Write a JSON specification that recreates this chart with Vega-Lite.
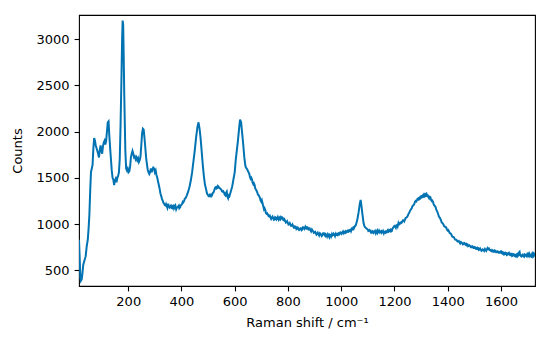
{
  "$schema": "https://vega.github.io/schema/vega-lite/v6.json",
  "autosize": "none",
  "width": 456,
  "height": 271,
  "padding": {"left": 79, "top": 15, "right": 15, "bottom": 64},
  "background": "white",
  "config": {
    "view": {"stroke": "black", "strokeWidth": 1.1},
    "axis": {
      "grid": false,
      "domain": false,
      "tickColor": "black",
      "tickSize": 4.9,
      "tickWidth": 1.1,
      "labelColor": "black",
      "labelFont": "DejaVu Sans",
      "labelFontSize": 13,
      "labelPadding": 5,
      "titleColor": "black",
      "titleFont": "DejaVu Sans",
      "titleFontSize": 13,
      "titleFontWeight": "normal"
    }
  },
  "data": {
    "values": [
      {"shift":15,"counts":830},{"shift":18,"counts":600},{"shift":20,"counts":420},{"shift":22,"counts":385},{"shift":25,"counts":400},{"shift":28,"counts":470},{"shift":31,"counts":560},{"shift":35,"counts":600},{"shift":40,"counts":650},{"shift":44,"counts":760},{"shift":48,"counts":830},{"shift":51,"counts":950},{"shift":54,"counts":1100},{"shift":57,"counts":1350},{"shift":60,"counts":1560},{"shift":63,"counts":1600},{"shift":66,"counts":1640},{"shift":69,"counts":1820},{"shift":72,"counts":1930},{"shift":75,"counts":1900},{"shift":78,"counts":1850},{"shift":81,"counts":1820},{"shift":84,"counts":1790},{"shift":87,"counts":1760},{"shift":90,"counts":1720},{"shift":93,"counts":1800},{"shift":96,"counts":1850},{"shift":99,"counts":1790},{"shift":102,"counts":1760},{"shift":105,"counts":1840},{"shift":108,"counts":1880},{"shift":111,"counts":1900},{"shift":114,"counts":1860},{"shift":117,"counts":1900},{"shift":120,"counts":2000},{"shift":123,"counts":2100},{"shift":126,"counts":2110},{"shift":129,"counts":1950},{"shift":132,"counts":1820},{"shift":135,"counts":1700},{"shift":138,"counts":1580},{"shift":141,"counts":1500},{"shift":144,"counts":1480},{"shift":147,"counts":1420},{"shift":150,"counts":1470},{"shift":153,"counts":1490},{"shift":156,"counts":1450},{"shift":159,"counts":1500},{"shift":162,"counts":1520},{"shift":165,"counts":1560},{"shift":168,"counts":1700},{"shift":171,"counts":2050},{"shift":174,"counts":2500},{"shift":177,"counts":3000},{"shift":179,"counts":3200},{"shift":181,"counts":3150},{"shift":183,"counts":2800},{"shift":185,"counts":2400},{"shift":187,"counts":2100},{"shift":189,"counts":1800},{"shift":192,"counts":1600},{"shift":195,"counts":1580},{"shift":198,"counts":1600},{"shift":201,"counts":1560},{"shift":204,"counts":1570},{"shift":207,"counts":1620},{"shift":210,"counts":1720},{"shift":213,"counts":1760},{"shift":216,"counts":1790},{"shift":219,"counts":1760},{"shift":222,"counts":1720},{"shift":225,"counts":1730},{"shift":228,"counts":1700},{"shift":231,"counts":1720},{"shift":234,"counts":1690},{"shift":237,"counts":1710},{"shift":240,"counts":1670},{"shift":243,"counts":1690},{"shift":246,"counts":1730},{"shift":249,"counts":1850},{"shift":252,"counts":1980},{"shift":255,"counts":2030},{"shift":258,"counts":2020},{"shift":261,"counts":1930},{"shift":264,"counts":1830},{"shift":267,"counts":1720},{"shift":270,"counts":1650},{"shift":273,"counts":1590},{"shift":276,"counts":1560},{"shift":279,"counts":1540},{"shift":282,"counts":1560},{"shift":285,"counts":1600},{"shift":288,"counts":1560},{"shift":291,"counts":1590},{"shift":294,"counts":1610},{"shift":297,"counts":1600},{"shift":300,"counts":1560},{"shift":303,"counts":1580},{"shift":306,"counts":1530},{"shift":309,"counts":1500},{"shift":312,"counts":1460},{"shift":315,"counts":1420},{"shift":318,"counts":1380},{"shift":321,"counts":1330},{"shift":324,"counts":1300},{"shift":327,"counts":1270},{"shift":330,"counts":1250},{"shift":335,"counts":1220},{"shift":340,"counts":1200},{"shift":345,"counts":1190},{"shift":350,"counts":1220},{"shift":355,"counts":1180},{"shift":360,"counts":1200},{"shift":365,"counts":1170},{"shift":370,"counts":1200},{"shift":375,"counts":1190},{"shift":380,"counts":1160},{"shift":385,"counts":1180},{"shift":390,"counts":1200},{"shift":395,"counts":1180},{"shift":400,"counts":1210},{"shift":405,"counts":1240},{"shift":410,"counts":1250},{"shift":415,"counts":1280},{"shift":420,"counts":1310},{"shift":425,"counts":1350},{"shift":430,"counts":1400},{"shift":435,"counts":1470},{"shift":440,"counts":1560},{"shift":445,"counts":1680},{"shift":450,"counts":1800},{"shift":455,"counts":1940},{"shift":460,"counts":2050},{"shift":464,"counts":2100},{"shift":468,"counts":2030},{"shift":472,"counts":1920},{"shift":476,"counts":1780},{"shift":480,"counts":1640},{"shift":484,"counts":1520},{"shift":488,"counts":1430},{"shift":492,"counts":1380},{"shift":496,"counts":1330},{"shift":500,"counts":1310},{"shift":505,"counts":1300},{"shift":510,"counts":1320},{"shift":515,"counts":1310},{"shift":520,"counts":1340},{"shift":525,"counts":1380},{"shift":530,"counts":1400},{"shift":535,"counts":1390},{"shift":540,"counts":1400},{"shift":545,"counts":1385},{"shift":550,"counts":1370},{"shift":555,"counts":1350},{"shift":560,"counts":1340},{"shift":565,"counts":1310},{"shift":570,"counts":1350},{"shift":575,"counts":1280},{"shift":580,"counts":1300},{"shift":585,"counts":1350},{"shift":590,"counts":1400},{"shift":595,"counts":1480},{"shift":600,"counts":1560},{"shift":604,"counts":1700},{"shift":608,"counts":1800},{"shift":612,"counts":1900},{"shift":616,"counts":2020},{"shift":620,"counts":2130},{"shift":624,"counts":2100},{"shift":628,"counts":1980},{"shift":632,"counts":1860},{"shift":636,"counts":1720},{"shift":640,"counts":1630},{"shift":645,"counts":1600},{"shift":650,"counts":1570},{"shift":655,"counts":1540},{"shift":660,"counts":1490},{"shift":665,"counts":1480},{"shift":670,"counts":1430},{"shift":675,"counts":1420},{"shift":680,"counts":1370},{"shift":685,"counts":1340},{"shift":690,"counts":1310},{"shift":695,"counts":1280},{"shift":700,"counts":1240},{"shift":705,"counts":1220},{"shift":710,"counts":1160},{"shift":715,"counts":1150},{"shift":720,"counts":1110},{"shift":725,"counts":1100},{"shift":730,"counts":1080},{"shift":735,"counts":1070},{"shift":740,"counts":1070},{"shift":745,"counts":1060},{"shift":750,"counts":1050},{"shift":755,"counts":1070},{"shift":760,"counts":1060},{"shift":765,"counts":1050},{"shift":770,"counts":1075},{"shift":775,"counts":1060},{"shift":780,"counts":1070},{"shift":785,"counts":1040},{"shift":790,"counts":1030},{"shift":795,"counts":1020},{"shift":800,"counts":1010},{"shift":805,"counts":1000},{"shift":810,"counts":990},{"shift":815,"counts":985},{"shift":820,"counts":975},{"shift":825,"counts":960},{"shift":830,"counts":970},{"shift":835,"counts":950},{"shift":840,"counts":945},{"shift":845,"counts":940},{"shift":850,"counts":955},{"shift":855,"counts":945},{"shift":860,"counts":960},{"shift":865,"counts":970},{"shift":870,"counts":950},{"shift":875,"counts":960},{"shift":880,"counts":940},{"shift":885,"counts":930},{"shift":890,"counts":940},{"shift":895,"counts":920},{"shift":900,"counts":910},{"shift":905,"counts":900},{"shift":910,"counts":895},{"shift":915,"counts":885},{"shift":920,"counts":900},{"shift":925,"counts":880},{"shift":930,"counts":885},{"shift":935,"counts":900},{"shift":940,"counts":870},{"shift":945,"counts":880},{"shift":950,"counts":890},{"shift":955,"counts":860},{"shift":960,"counts":880},{"shift":965,"counts":890},{"shift":970,"counts":880},{"shift":975,"counts":885},{"shift":980,"counts":895},{"shift":985,"counts":880},{"shift":990,"counts":900},{"shift":995,"counts":895},{"shift":1000,"counts":905},{"shift":1005,"counts":910},{"shift":1010,"counts":900},{"shift":1015,"counts":920},{"shift":1020,"counts":910},{"shift":1025,"counts":930},{"shift":1030,"counts":920},{"shift":1035,"counts":940},{"shift":1040,"counts":950},{"shift":1045,"counts":960},{"shift":1050,"counts":970},{"shift":1055,"counts":990},{"shift":1060,"counts":1040},{"shift":1065,"counts":1120},{"shift":1070,"counts":1220},{"shift":1073,"counts":1260},{"shift":1076,"counts":1200},{"shift":1080,"counts":1100},{"shift":1084,"counts":1010},{"shift":1088,"counts":970},{"shift":1092,"counts":960},{"shift":1096,"counts":950},{"shift":1100,"counts":940},{"shift":1105,"counts":930},{"shift":1110,"counts":920},{"shift":1115,"counts":905},{"shift":1120,"counts":920},{"shift":1125,"counts":915},{"shift":1130,"counts":900},{"shift":1135,"counts":930},{"shift":1140,"counts":920},{"shift":1145,"counts":910},{"shift":1150,"counts":925},{"shift":1155,"counts":915},{"shift":1160,"counts":900},{"shift":1165,"counts":920},{"shift":1170,"counts":910},{"shift":1175,"counts":935},{"shift":1180,"counts":920},{"shift":1185,"counts":940},{"shift":1190,"counts":925},{"shift":1195,"counts":960},{"shift":1200,"counts":980},{"shift":1205,"counts":960},{"shift":1210,"counts":990},{"shift":1215,"counts":1010},{"shift":1220,"counts":1000},{"shift":1225,"counts":1020},{"shift":1230,"counts":1030},{"shift":1235,"counts":1040},{"shift":1240,"counts":1050},{"shift":1245,"counts":1070},{"shift":1250,"counts":1090},{"shift":1255,"counts":1120},{"shift":1260,"counts":1150},{"shift":1265,"counts":1170},{"shift":1270,"counts":1200},{"shift":1275,"counts":1220},{"shift":1280,"counts":1250},{"shift":1285,"counts":1260},{"shift":1290,"counts":1280},{"shift":1295,"counts":1270},{"shift":1300,"counts":1300},{"shift":1305,"counts":1290},{"shift":1310,"counts":1320},{"shift":1315,"counts":1300},{"shift":1320,"counts":1330},{"shift":1325,"counts":1310},{"shift":1330,"counts":1280},{"shift":1335,"counts":1290},{"shift":1340,"counts":1250},{"shift":1345,"counts":1240},{"shift":1350,"counts":1200},{"shift":1355,"counts":1180},{"shift":1360,"counts":1140},{"shift":1365,"counts":1100},{"shift":1370,"counts":1070},{"shift":1375,"counts":1040},{"shift":1380,"counts":1010},{"shift":1385,"counts":990},{"shift":1390,"counts":970},{"shift":1395,"counts":960},{"shift":1400,"counts":930},{"shift":1405,"counts":920},{"shift":1410,"counts":900},{"shift":1415,"counts":880},{"shift":1420,"counts":860},{"shift":1425,"counts":850},{"shift":1430,"counts":830},{"shift":1435,"counts":820},{"shift":1440,"counts":810},{"shift":1445,"counts":800},{"shift":1450,"counts":805},{"shift":1455,"counts":790},{"shift":1460,"counts":785},{"shift":1465,"counts":790},{"shift":1470,"counts":770},{"shift":1475,"counts":780},{"shift":1480,"counts":765},{"shift":1485,"counts":760},{"shift":1490,"counts":750},{"shift":1495,"counts":755},{"shift":1500,"counts":740},{"shift":1505,"counts":745},{"shift":1510,"counts":730},{"shift":1515,"counts":740},{"shift":1520,"counts":725},{"shift":1525,"counts":720},{"shift":1530,"counts":715},{"shift":1535,"counts":720},{"shift":1540,"counts":730},{"shift":1545,"counts":710},{"shift":1550,"counts":740},{"shift":1555,"counts":735},{"shift":1560,"counts":720},{"shift":1565,"counts":705},{"shift":1570,"counts":715},{"shift":1575,"counts":700},{"shift":1580,"counts":710},{"shift":1585,"counts":695},{"shift":1590,"counts":700},{"shift":1595,"counts":690},{"shift":1600,"counts":705},{"shift":1605,"counts":680},{"shift":1610,"counts":690},{"shift":1615,"counts":675},{"shift":1620,"counts":685},{"shift":1625,"counts":670},{"shift":1630,"counts":690},{"shift":1635,"counts":665},{"shift":1640,"counts":680},{"shift":1645,"counts":660},{"shift":1650,"counts":670},{"shift":1655,"counts":650},{"shift":1660,"counts":675},{"shift":1665,"counts":660},{"shift":1670,"counts":700},{"shift":1675,"counts":655},{"shift":1680,"counts":665},{"shift":1685,"counts":650},{"shift":1690,"counts":670},{"shift":1695,"counts":655},{"shift":1700,"counts":690},{"shift":1705,"counts":650},{"shift":1710,"counts":665},{"shift":1715,"counts":645},{"shift":1720,"counts":700},{"shift":1725,"counts":660},{"shift":1728,"counts":690},
      {"shift":332,"counts":1230},{"shift":337,"counts":1205},{"shift":342,"counts":1215},{"shift":347,"counts":1175},{"shift":352,"counts":1200},{"shift":357,"counts":1190},{"shift":362,"counts":1175},{"shift":367,"counts":1195},{"shift":372,"counts":1170},{"shift":377,"counts":1200},{"shift":382,"counts":1175},{"shift":387,"counts":1190},{"shift":392,"counts":1170},{"shift":397,"counts":1200},{"shift":402,"counts":1215},{"shift":407,"counts":1235},{"shift":412,"counts":1270},{"shift":417,"counts":1290},
      {"shift":502,"counts":1300},{"shift":507,"counts":1320},{"shift":512,"counts":1300},{"shift":517,"counts":1335},{"shift":522,"counts":1355},{"shift":527,"counts":1395},{"shift":532,"counts":1385},{"shift":537,"counts":1410},{"shift":542,"counts":1390},{"shift":547,"counts":1380},{"shift":552,"counts":1355},{"shift":557,"counts":1355},{"shift":562,"counts":1320},{"shift":567,"counts":1335},{"shift":572,"counts":1300},{"shift":577,"counts":1310},{"shift":582,"counts":1320},{"shift":587,"counts":1370},{"shift":592,"counts":1430},
      {"shift":642,"counts":1610},{"shift":647,"counts":1590},{"shift":652,"counts":1560},{"shift":657,"counts":1510},{"shift":662,"counts":1500},{"shift":667,"counts":1450},{"shift":672,"counts":1440},{"shift":677,"counts":1385},{"shift":682,"counts":1360},{"shift":687,"counts":1320},{"shift":692,"counts":1300},{"shift":697,"counts":1255},
      {"shift":702,"counts":1255},{"shift":707,"counts":1195},{"shift":712,"counts":1170},{"shift":717,"counts":1120},{"shift":722,"counts":1115},{"shift":727,"counts":1085},{"shift":732,"counts":1090},{"shift":737,"counts":1055},{"shift":742,"counts":1080},{"shift":747,"counts":1045},{"shift":752,"counts":1075},{"shift":757,"counts":1050},{"shift":762,"counts":1075},{"shift":767,"counts":1065},{"shift":772,"counts":1050},{"shift":777,"counts":1075},{"shift":782,"counts":1045},{"shift":787,"counts":1050},{"shift":792,"counts":1015},{"shift":797,"counts":1030},{"shift":802,"counts":995},{"shift":807,"counts":1010},{"shift":812,"counts":980},{"shift":817,"counts":995},{"shift":822,"counts":960},{"shift":827,"counts":975},{"shift":832,"counts":945},{"shift":837,"counts":960},{"shift":842,"counts":935},{"shift":847,"counts":955},{"shift":852,"counts":935},{"shift":857,"counts":965},{"shift":862,"counts":950},{"shift":867,"counts":955},{"shift":872,"counts":965},{"shift":877,"counts":940},{"shift":882,"counts":950},{"shift":887,"counts":920},{"shift":892,"counts":930},{"shift":897,"counts":905},{"shift":902,"counts":915},{"shift":907,"counts":885},{"shift":912,"counts":905},{"shift":917,"counts":875},{"shift":922,"counts":895},{"shift":927,"counts":870},{"shift":932,"counts":900},{"shift":937,"counts":880},{"shift":942,"counts":890},{"shift":947,"counts":865},{"shift":952,"counts":880},{"shift":957,"counts":885},{"shift":962,"counts":865},{"shift":967,"counts":875},{"shift":972,"counts":895},{"shift":977,"counts":870},{"shift":982,"counts":885},{"shift":987,"counts":895},{"shift":992,"counts":885},{"shift":997,"counts":910},{"shift":1002,"counts":895},{"shift":1007,"counts":920},{"shift":1012,"counts":910},{"shift":1017,"counts":905},{"shift":1022,"counts":925},{"shift":1027,"counts":915},{"shift":1032,"counts":935},{"shift":1037,"counts":925},{"shift":1042,"counts":945},{"shift":1047,"counts":950},
      {"shift":1102,"counts":925},{"shift":1107,"counts":935},{"shift":1112,"counts":905},{"shift":1117,"counts":925},{"shift":1122,"counts":905},{"shift":1127,"counts":925},{"shift":1132,"counts":915},{"shift":1137,"counts":905},{"shift":1142,"counts":930},{"shift":1147,"counts":920},{"shift":1152,"counts":905},{"shift":1157,"counts":925},{"shift":1162,"counts":915},{"shift":1167,"counts":905},{"shift":1172,"counts":925},{"shift":1177,"counts":915},{"shift":1182,"counts":935},{"shift":1187,"counts":920},{"shift":1192,"counts":945},{"shift":1197,"counts":970},{"shift":1202,"counts":975},{"shift":1207,"counts":985},{"shift":1212,"counts":975},{"shift":1217,"counts":995},{"shift":1222,"counts":1015},{"shift":1227,"counts":1015},{"shift":1232,"counts":1040},{"shift":1237,"counts":1030},{"shift":1242,"counts":1065},{"shift":1247,"counts":1075},{"shift":1252,"counts":1105},
      {"shift":1262,"counts":1160},{"shift":1267,"counts":1190},{"shift":1272,"counts":1205},{"shift":1277,"counts":1240},{"shift":1282,"counts":1245},{"shift":1287,"counts":1275},{"shift":1292,"counts":1265},{"shift":1297,"counts":1295},{"shift":1302,"counts":1285},{"shift":1307,"counts":1310},{"shift":1312,"counts":1295},{"shift":1317,"counts":1325},{"shift":1322,"counts":1305},{"shift":1327,"counts":1295},{"shift":1332,"counts":1295},{"shift":1337,"counts":1265},{"shift":1342,"counts":1255},{"shift":1347,"counts":1215},{"shift":1352,"counts":1195},{"shift":1357,"counts":1155},{"shift":1362,"counts":1125},{"shift":1367,"counts":1080},{"shift":1372,"counts":1060},{"shift":1377,"counts":1020},{"shift":1382,"counts":1005},{"shift":1387,"counts":975},{"shift":1392,"counts":970},{"shift":1397,"counts":940},
      {"shift":1402,"counts":935},{"shift":1407,"counts":905},{"shift":1412,"counts":895},{"shift":1417,"counts":865},{"shift":1422,"counts":860},{"shift":1427,"counts":835},{"shift":1432,"counts":830},{"shift":1437,"counts":810},{"shift":1442,"counts":815},{"shift":1447,"counts":790},{"shift":1452,"counts":800},{"shift":1457,"counts":780},{"shift":1462,"counts":795},{"shift":1467,"counts":775},{"shift":1472,"counts":785},{"shift":1477,"counts":760},{"shift":1482,"counts":770},{"shift":1487,"counts":750},{"shift":1492,"counts":760},{"shift":1497,"counts":740},{"shift":1502,"counts":750},{"shift":1507,"counts":730},{"shift":1512,"counts":745},{"shift":1517,"counts":720},{"shift":1522,"counts":735},{"shift":1527,"counts":710},{"shift":1532,"counts":725},{"shift":1537,"counts":710},{"shift":1542,"counts":720},{"shift":1547,"counts":725},{"shift":1552,"counts":730},{"shift":1557,"counts":720},{"shift":1562,"counts":710},{"shift":1567,"counts":720},{"shift":1572,"counts":700},{"shift":1577,"counts":715},{"shift":1582,"counts":695},{"shift":1587,"counts":705},{"shift":1592,"counts":690},{"shift":1597,"counts":700},{"shift":1602,"counts":685},{"shift":1607,"counts":695},{"shift":1612,"counts":670},{"shift":1617,"counts":690},{"shift":1622,"counts":665},{"shift":1627,"counts":685},{"shift":1632,"counts":670},{"shift":1637,"counts":680},{"shift":1642,"counts":655},{"shift":1647,"counts":675},{"shift":1652,"counts":655},{"shift":1657,"counts":670},{"shift":1662,"counts":650},{"shift":1667,"counts":690},{"shift":1672,"counts":665},{"shift":1677,"counts":650},{"shift":1682,"counts":670},{"shift":1687,"counts":645},{"shift":1692,"counts":665},{"shift":1697,"counts":650},{"shift":1702,"counts":660},{"shift":1707,"counts":680},{"shift":1712,"counts":650},{"shift":1717,"counts":675},{"shift":1722,"counts":650},{"shift":1727,"counts":675}
    ]
  },
  "mark": {"type": "line", "color": "#0173b2", "strokeWidth": 2, "clip": true},
  "encoding": {
    "x": {
      "field": "shift", "type": "quantitative", "sort": "ascending",
      "scale": {"domain": [15, 1728], "nice": false, "zero": false},
      "axis": {"values": [200, 400, 600, 800, 1000, 1200, 1400, 1600], "format": "d", "title": "Raman shift / cm⁻¹", "titlePadding": 8}
    },
    "y": {
      "field": "counts", "type": "quantitative",
      "scale": {"domain": [330, 3260], "nice": false, "zero": false},
      "axis": {"values": [500, 1000, 1500, 2000, 2500, 3000], "format": "d", "title": "Counts", "titlePadding": 12}
    }
  }
}
